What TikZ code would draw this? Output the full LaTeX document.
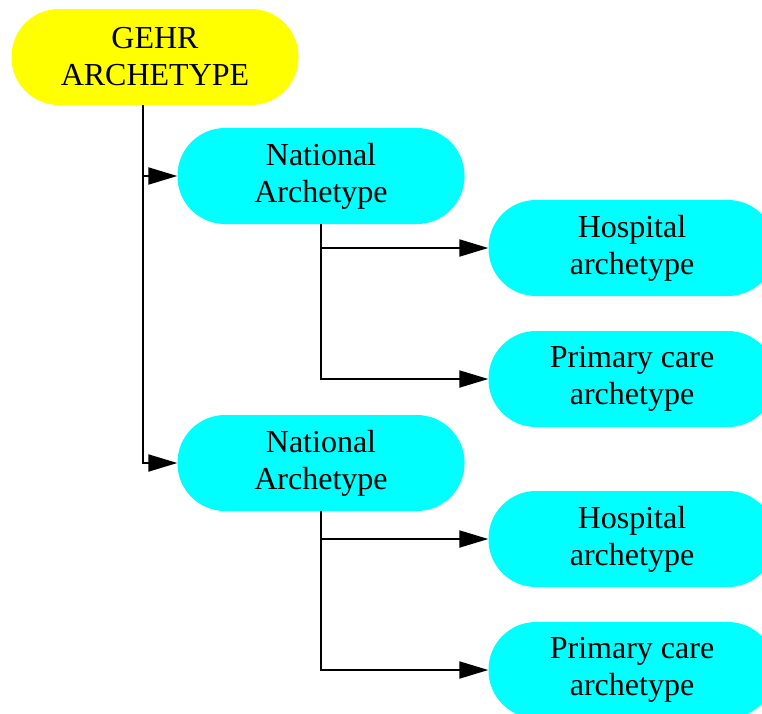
\documentclass[tikz,border=0pt]{standalone}
\usepackage{fontspec}
\setmainfont{Liberation Serif}
\usetikzlibrary{arrows.meta}
\definecolor{rootfill}{RGB}{255,255,0}
\definecolor{subfill}{RGB}{0,255,255}
\begin{document}
\begin{tikzpicture}[x=1pt, y=-1pt,
    archbox/.style={rectangle, rounded corners=47.5pt, minimum width=287pt,
        minimum height=96pt, inner sep=0pt, align=center,
        font=\fontsize{32}{37}\selectfont},
    rootbox/.style={archbox, fill=rootfill},
    subbox/.style={archbox, fill=subfill},
    link/.style={line width=2pt, -{Triangle[length=29pt, width=17pt]}}]
    \clip (0,0) rectangle (762,713);
    % Root archetype
    \node[rootbox] (gehr) at (155,57) {GEHR\\ARCHETYPE};

    % National archetypes
    \node[subbox] (nat1) at (321,176) {National\\Archetype};
    \node[subbox] (nat2) at (321,463) {National\\Archetype};

    % Local archetypes
    \node[subbox] (hosp1) at (632,248) {Hospital\\archetype};
    \node[subbox] (prim1) at (632,379) {Primary care\\archetype};
    \node[subbox] (hosp2) at (632,539) {Hospital\\archetype};
    \node[subbox] (prim2) at (632,670) {Primary care\\archetype};

    % Links
    \foreach \n in {nat1, nat2}
        \draw[link] ([xshift=-12pt]gehr.south) |- (\n.west);
    \draw[link] (nat1.south) |- (hosp1.west);
    \draw[link] (nat1.south) |- (prim1.west);
    \draw[link] (nat2.south) |- (hosp2.west);
    \draw[link] (nat2.south) |- (prim2.west);
\end{tikzpicture}
\end{document}
